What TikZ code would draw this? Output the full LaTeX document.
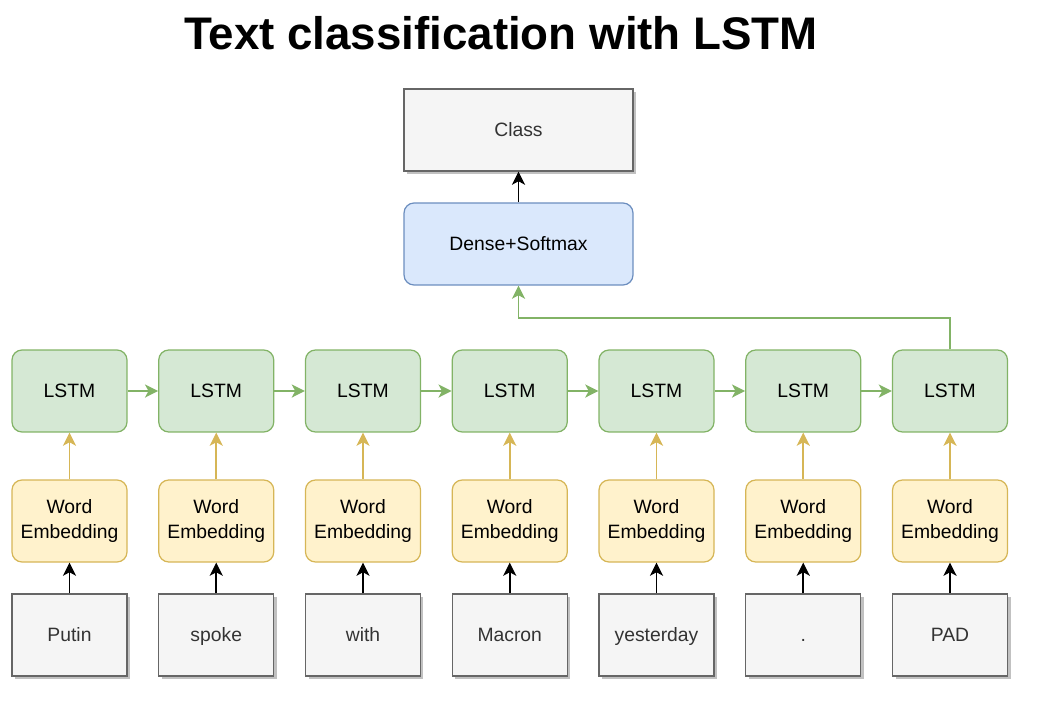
\documentclass[tikz,border=0pt]{standalone}
\usepackage{fontspec}
\setmainfont{Liberation Sans}
\usetikzlibrary{arrows.meta,shadows}

\definecolor{lstmfill}{HTML}{D5E8D4}
\definecolor{lstmline}{HTML}{82B366}
\definecolor{embfill}{HTML}{FFF2CC}
\definecolor{embline}{HTML}{D6B656}
\definecolor{densefill}{HTML}{DAE8FC}
\definecolor{denseline}{HTML}{6C8EBF}
\definecolor{tokfill}{HTML}{F5F5F5}
\definecolor{tokline}{HTML}{666666}

\begin{document}
\begin{tikzpicture}[x=0.02cm,y=-0.02cm,
  box/.style={rectangle,minimum width=2.3cm,minimum height=1.64cm,inner sep=2pt,
    line width=0.7pt,align=center,font=\fontsize{11}{14.5}\selectfont},
  lstm/.style={box,rounded corners=0.2cm,draw=lstmline,fill=lstmfill},
  embed/.style={box,rounded corners=0.2cm,draw=embline,fill=embfill},
  dense/.style={box,minimum width=4.58cm,rounded corners=0.2cm,draw=denseline,fill=densefill},
  token/.style={box,draw=tokline,fill=tokfill,text=black!80,text height=7.9pt,text depth=0pt,
    drop shadow={shadow xshift=0.06cm,shadow yshift=-0.06cm,fill=black!35,opacity=0.7}},
  arr/.style={line width=0.9pt,-{Stealth[length=7.5pt,width=7.5pt,inset=2pt]}}]
\useasboundingbox (0,0) rectangle (1054,710);

\node (title) at (501,33) {\bfseries\fontsize{26}{30}\selectfont Text classification with LSTM};

\node[token,minimum width=4.58cm] (class) at (518.5,130) {Class};
\node[dense] (dense) at (518.5,244) {Dense+Softmax};

% one column per word
\foreach \w [count=\i] in {Putin,spoke,with,Macron,yesterday,.,PAD} {
  \node[lstm] (l\i) at ({69.5+(\i-1)*146.75},391) {LSTM};
  \node[embed] (e\i) at ({69.5+(\i-1)*146.75},521) {Word\\Embedding};
  \node[token] (w\i) at ({69.5+(\i-1)*146.75},635) {\w};
  \draw[arr,black] (w\i) -- (e\i);
  \draw[arr,embline] (e\i) -- (l\i);
}
\foreach \i [evaluate=\i as \j using int(\i+1)] in {1,...,6}
  \draw[arr,lstmline] (l\i) -- (l\j);

\draw[arr,lstmline] (l7.north) |- (518.5,318) -- (dense.south);
\draw[arr,black] (dense) -- (class);
\end{tikzpicture}
\end{document}
